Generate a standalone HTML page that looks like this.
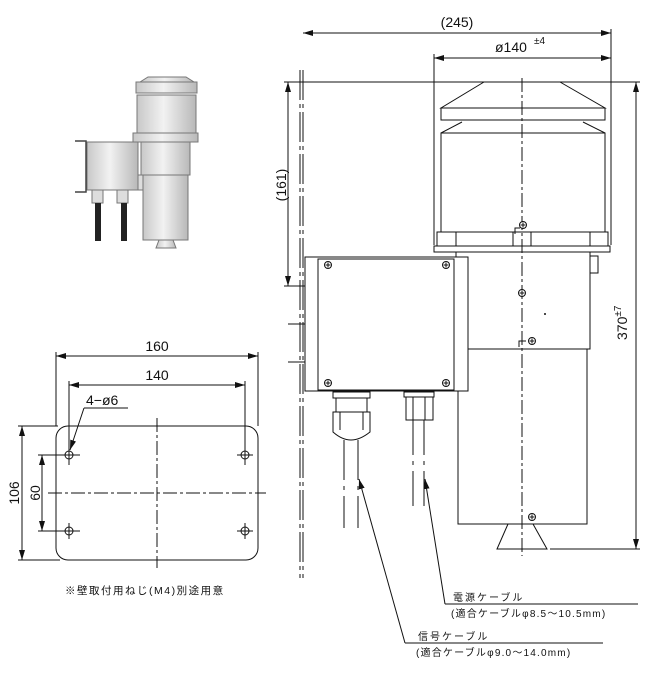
<!DOCTYPE html>
<html><head><meta charset="utf-8"><style>
html,body{margin:0;padding:0;background:#fff;}
svg{display:block;}
text{font-family:"Liberation Sans","Noto Sans CJK JP",sans-serif;fill:#111;}
</style></head><body>
<svg width="650" height="673" viewBox="0 0 650 673" xmlns="http://www.w3.org/2000/svg">
<defs>
<marker id="a" viewBox="0 0 10 6" refX="10" refY="3" markerWidth="10" markerHeight="6" orient="auto-start-reverse" markerUnits="userSpaceOnUse"><path d="M0,0 L10,3 L0,6 z" fill="#111"/></marker>
<linearGradient id="g" x1="0" x2="1"><stop offset="0" stop-color="#c8c8c8"/><stop offset=".45" stop-color="#f2f2f2"/><stop offset="1" stop-color="#b8b8b8"/></linearGradient>
<symbol id="s" viewBox="-4 -4 8 8"><circle r="3.5" fill="#fff" stroke="#111" stroke-width="1"/><path d="M-2.5,0H2.5M0,-2.5V2.5" stroke="#111" stroke-width="1"/></symbol>
</defs>

<!-- PHOTO -->
<g stroke="#777" stroke-width="1">
<path d="M140,82 L148,77 L186,77 L194,82 Z" fill="url(#g)"/>
<rect x="136" y="82" width="61" height="11" fill="url(#g)"/>
<rect x="137" y="95" width="59" height="38" fill="url(#g)"/>
<rect x="133" y="133" width="65" height="9" fill="url(#g)"/>
<rect x="141" y="142" width="49" height="33" fill="url(#g)"/>
<rect x="143" y="175" width="45" height="65" fill="url(#g)"/>
<path d="M159,240 L173,240 L176,248 L156,248 Z" fill="url(#g)"/>
<rect x="87" y="142" width="51" height="48" fill="url(#g)"/>
<rect x="138" y="175" width="5" height="15" fill="#ddd"/>
<rect x="92" y="190" width="11" height="13" fill="#ddd"/>
<rect x="117" y="190" width="11" height="13" fill="#ddd"/>
</g>
<path d="M75,141 H86 V192 H75" fill="none" stroke="#444" stroke-width="1.5"/>
<rect x="95" y="203" width="6" height="38" fill="#222"/>
<rect x="121" y="203" width="6" height="38" fill="#222"/>

<!-- MAIN DRAWING -->
<g stroke="#111" stroke-width="1" fill="none">
<line x1="303" y1="33" x2="611" y2="33" marker-start="url(#a)" marker-end="url(#a)"/>
<line x1="611" y1="29" x2="611" y2="245"/>
<line x1="434" y1="58" x2="611" y2="58" marker-start="url(#a)" marker-end="url(#a)"/>
<line x1="434" y1="54" x2="434" y2="245"/>
<line x1="284" y1="82" x2="640" y2="82"/>
<line x1="300" y1="70" x2="300" y2="578" stroke-dasharray="30,4,4,4"/>
<line x1="303" y1="70" x2="303" y2="578" stroke-dasharray="30,4,4,4"/>
<line x1="288" y1="82" x2="288" y2="286" marker-start="url(#a)" marker-end="url(#a)"/>
<line x1="284" y1="286" x2="318" y2="286"/>
<line x1="288" y1="324" x2="325" y2="324"/>
<line x1="288" y1="362" x2="325" y2="362"/>
<path d="M484,82 L441,108 H605 L560,82"/>
<rect x="441" y="108" width="164" height="12"/>
<path d="M462,122 L441,133 H605 L583,122"/>
<rect x="441" y="133" width="164" height="99"/>
<rect x="437" y="232" width="171" height="14"/>
<path d="M456,232V246 M513,232V246 M531,232V246 M590,232V246"/>
<rect x="434" y="246" width="176" height="6"/>
<rect x="456" y="252" width="134" height="97"/>
<rect x="590" y="256" width="8" height="17"/>
<rect x="458" y="349" width="129" height="175"/>
<path d="M508,524 L497,549 H547 L533,524"/>
<line x1="636" y1="82" x2="636" y2="549" marker-start="url(#a)" marker-end="url(#a)"/>
<line x1="550" y1="549" x2="640" y2="549"/>
<line x1="522" y1="78" x2="522" y2="556" stroke-dasharray="14,3,3,3"/>
<rect x="305" y="257" width="163" height="134" fill="#fff"/>
<rect x="318" y="259" width="136" height="131"/>
<rect x="333" y="392" width="37" height="6"/>
<rect x="336" y="398" width="31" height="14"/>
<path d="M333,412 H370 V432 Q360,440 351,440 Q342,440 333,432 Z"/>
<path d="M340,412V430 M363,412V430"/>
<rect x="404" y="392" width="30" height="5"/>
<rect x="406" y="397" width="27" height="23"/>
<path d="M413,397V420 M425,397V420"/>
<path d="M344,440V528 M358,440V528" stroke-dasharray="40,6,4,6"/>
<path d="M413,420V508 M424,420V508" stroke-dasharray="35,6,4,6"/>
<polyline points="405,643 603,643" />
<line x1="405" y1="643" x2="359" y2="479" marker-end="url(#a)"/>
<polyline points="445,604 638,604"/>
<line x1="445" y1="604" x2="425" y2="479" marker-end="url(#a)"/>
</g>
<path d="M515,234 V228 H520" stroke="#111" fill="none"/>
<path d="M519,347 V341 H526" stroke="#111" fill="none"/>
<use href="#s" x="519" y="221" width="8" height="8"/>
<use href="#s" x="518" y="289" width="8" height="8"/>
<use href="#s" x="528" y="337" width="8" height="8"/>
<use href="#s" x="528" y="513" width="8" height="8"/>
<use href="#s" x="324" y="261" width="8" height="8"/>
<use href="#s" x="442" y="261" width="8" height="8"/>
<use href="#s" x="324" y="379" width="8" height="8"/>
<use href="#s" x="442" y="379" width="8" height="8"/>
<circle cx="545" cy="314" r="1" fill="#111"/>

<text x="457" y="27" font-size="14" text-anchor="middle">(245)</text>
<text x="495" y="52" font-size="14">ø140</text>
<text x="534" y="44" font-size="10">±4</text>
<text transform="translate(286,185) rotate(-90)" font-size="14" text-anchor="middle">(161)</text>
<text transform="translate(627,340) rotate(-90)" font-size="14">370<tspan font-size="10" dy="-6">±7</tspan></text>
<g font-size="10">
<text x="453" y="601" letter-spacing="2">電源ケーブル</text>
<text x="451" y="617" letter-spacing="1.2">(適合ケーブルφ8.5～10.5mm)</text>
<text x="418" y="640" letter-spacing="2">信号ケーブル</text>
<text x="416" y="656" letter-spacing="1.2">(適合ケーブルφ9.0～14.0mm)</text>
</g>

<!-- PLATE -->
<g stroke="#111" stroke-width="1" fill="none">
<rect x="56" y="426" width="202" height="134" rx="12"/>
<line x1="56" y1="356" x2="258" y2="356" marker-start="url(#a)" marker-end="url(#a)"/>
<line x1="56" y1="352" x2="56" y2="426"/>
<line x1="258" y1="352" x2="258" y2="426"/>
<line x1="69" y1="385" x2="245" y2="385" marker-start="url(#a)" marker-end="url(#a)"/>
<line x1="69" y1="381" x2="69" y2="465"/>
<line x1="245" y1="381" x2="245" y2="465"/>
<line x1="22" y1="426" x2="22" y2="560" marker-start="url(#a)" marker-end="url(#a)"/>
<line x1="18" y1="426" x2="58" y2="426"/>
<line x1="18" y1="560" x2="60" y2="560"/>
<line x1="42" y1="455" x2="42" y2="531" marker-start="url(#a)" marker-end="url(#a)"/>
<line x1="38" y1="455" x2="80" y2="455"/>
<line x1="38" y1="531" x2="80" y2="531"/>
<line x1="157" y1="418" x2="157" y2="568" stroke-dasharray="14,3,3,3"/>
<line x1="48" y1="493" x2="266" y2="493" stroke-dasharray="14,3,3,3"/>
<circle cx="69" cy="455" r="4"/><circle cx="245" cy="455" r="4"/>
<circle cx="69" cy="531" r="4"/><circle cx="245" cy="531" r="4"/>
<path d="M237,455H253M245,447V463 M61,531H77M69,523V539 M237,531H253M245,523V539"/>
<polyline points="128,408 84,408"/>
<line x1="84" y1="408" x2="70" y2="450" marker-end="url(#a)"/>
</g>
<text x="157" y="351" font-size="14" text-anchor="middle">160</text>
<text x="157" y="380" font-size="14" text-anchor="middle">140</text>
<text x="86" y="405" font-size="14">4−ø6</text>
<text transform="translate(19,493) rotate(-90)" font-size="14" text-anchor="middle">106</text>
<text transform="translate(40,493) rotate(-90)" font-size="14" text-anchor="middle">60</text>
<text x="65" y="594" font-size="10.5" letter-spacing="1.5">※壁取付用ねじ(M4)別途用意</text>
</svg>
</body></html>
